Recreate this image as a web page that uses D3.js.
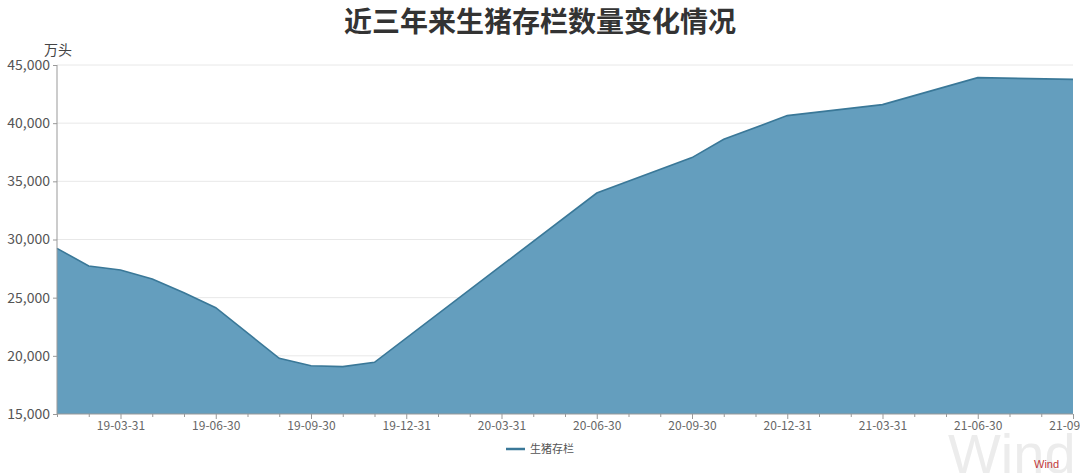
<!DOCTYPE html>
<html><head><meta charset="utf-8">
<script src="https://cdn.jsdelivr.net/npm/d3@7/dist/d3.min.js"></script>
<style>html,body{margin:0;padding:0;background:#fff;overflow:hidden}svg{display:block}</style>
</head><body>
<svg id="c" width="1080" height="473"></svg>
<script>
const title = "近三年来生猪存栏数量变化情况";
const unit = "万头";
const seriesName = "生猪存栏";
const categories = [
  "19-01-31","19-02-28","19-03-31","19-04-30","19-05-31","19-06-30","19-07-31","19-08-31","19-09-30","19-10-31","19-11-30","19-12-31",
  "20-01-31","20-02-29","20-03-31","20-04-30","20-05-31","20-06-30","20-07-31","20-08-31","20-09-30","20-10-31","20-11-30","20-12-31",
  "21-01-31","21-02-28","21-03-31","21-04-30","21-05-31","21-06-30","21-07-31","21-08-31","21-09-30"
];
const values = [
  29240, 27720, 27380, 26600, 25430, 24140, null, 19790, 19150, 19070, 19440, null,
  null, null, null, null, null, 33996, null, null, 37039, 38610, null, 40650,
  null, null, 41595, null, null, 43911, null, null, 43764
];
const yTicks = [15000, 20000, 25000, 30000, 35000, 40000, 45000];
const labelEvery = 3, labelOffset = 2;

(function () {
const svg = d3.select("#c");
const font = "'Microsoft YaHei','Noto Sans CJK SC','Noto Sans',sans-serif";
const pl = 57, pr = 1073, pt = 65, pb = 414;

const x = d3.scalePoint().domain(categories).range([pl, pr]);
const y = d3.scaleLinear().domain([15000, 45000]).range([pb, pt]);

// grid
svg.append("g").selectAll("line").data(yTicks.slice(1)).join("line")
  .attr("x1", pl).attr("x2", pr)
  .attr("y1", d => y(d)).attr("y2", d => y(d))
  .attr("stroke", "#e8e8e8").attr("stroke-width", 1);

const pts = categories.map((c, i) => ({c, v: values[i]})).filter(d => d.v != null);

const area = d3.area().x(d => x(d.c)).y0(pb).y1(d => y(d.v));
const line = d3.line().x(d => x(d.c)).y(d => y(d.v));

svg.append("path").datum(pts).attr("d", area).attr("fill", "#649ebe");
svg.append("path").datum(pts).attr("d", line).attr("fill", "none")
  .attr("stroke", "#3a7898").attr("stroke-width", 1.6);

// watermark (behind axis labels)
svg.append("text").attr("x", 948).attr("y", 473).text("Wind")
  .attr("fill", "#ececec").style("font-size", "56px").style("font-family", "'Liberation Sans',Arial,sans-serif");

// y axis
const yAxis = d3.axisLeft(y).tickValues(yTicks).tickSize(4).tickPadding(3)
  .tickFormat(d3.format(","));
const gy = svg.append("g").attr("transform", `translate(${pl},0)`).call(yAxis);
gy.select(".domain").attr("stroke", "#999").attr("d", `M0,${pt}V${pb}`);
gy.selectAll(".tick line").attr("stroke", "#999");
gy.selectAll("text").attr("fill", "#555").style("font-size", "14px").style("font-family", font);

// x axis
const xAxis = d3.axisBottom(x).tickSize(3).tickPadding(4)
  .tickFormat((d, i) => (i % labelEvery === labelOffset) ? d : "");
const gx = svg.append("g").attr("transform", `translate(0,${pb})`).call(xAxis);
gx.select(".domain").attr("stroke", "#999").attr("d", `M${pl},0H${pr}`);
gx.selectAll(".tick line").attr("stroke", "#999")
  .attr("y2", (d, i) => (i % labelEvery === labelOffset) ? 5 : 3);
gx.selectAll("text").attr("fill", "#666").style("font-size", "12px").style("font-family", font);

// unit label
svg.append("text").attr("x", 44).attr("y", 55).text(unit)
  .attr("fill", "#444").style("font-size", "14px").style("font-family", font);

// title
svg.append("text").attr("x", 540).attr("y", 32).attr("text-anchor", "middle").text(title)
  .attr("fill", "#333").style("font-size", "28px").style("font-weight", "bold").style("font-family", font);

// source mark
svg.append("text").attr("x", 1034).attr("y", 468).text("Wind")
  .attr("fill", "#c0393b").style("font-size", "11px").style("font-family", "'Liberation Sans',Arial,sans-serif");

// legend
svg.append("line").attr("x1", 506).attr("x2", 525).attr("y1", 449).attr("y2", 449)
  .attr("stroke", "#3a7898").attr("stroke-width", 2.5);
svg.append("text").attr("x", 530).attr("y", 453).text(seriesName)
  .attr("fill", "#555").style("font-size", "11px").style("font-family", font);
})();
</script>
</body></html>
